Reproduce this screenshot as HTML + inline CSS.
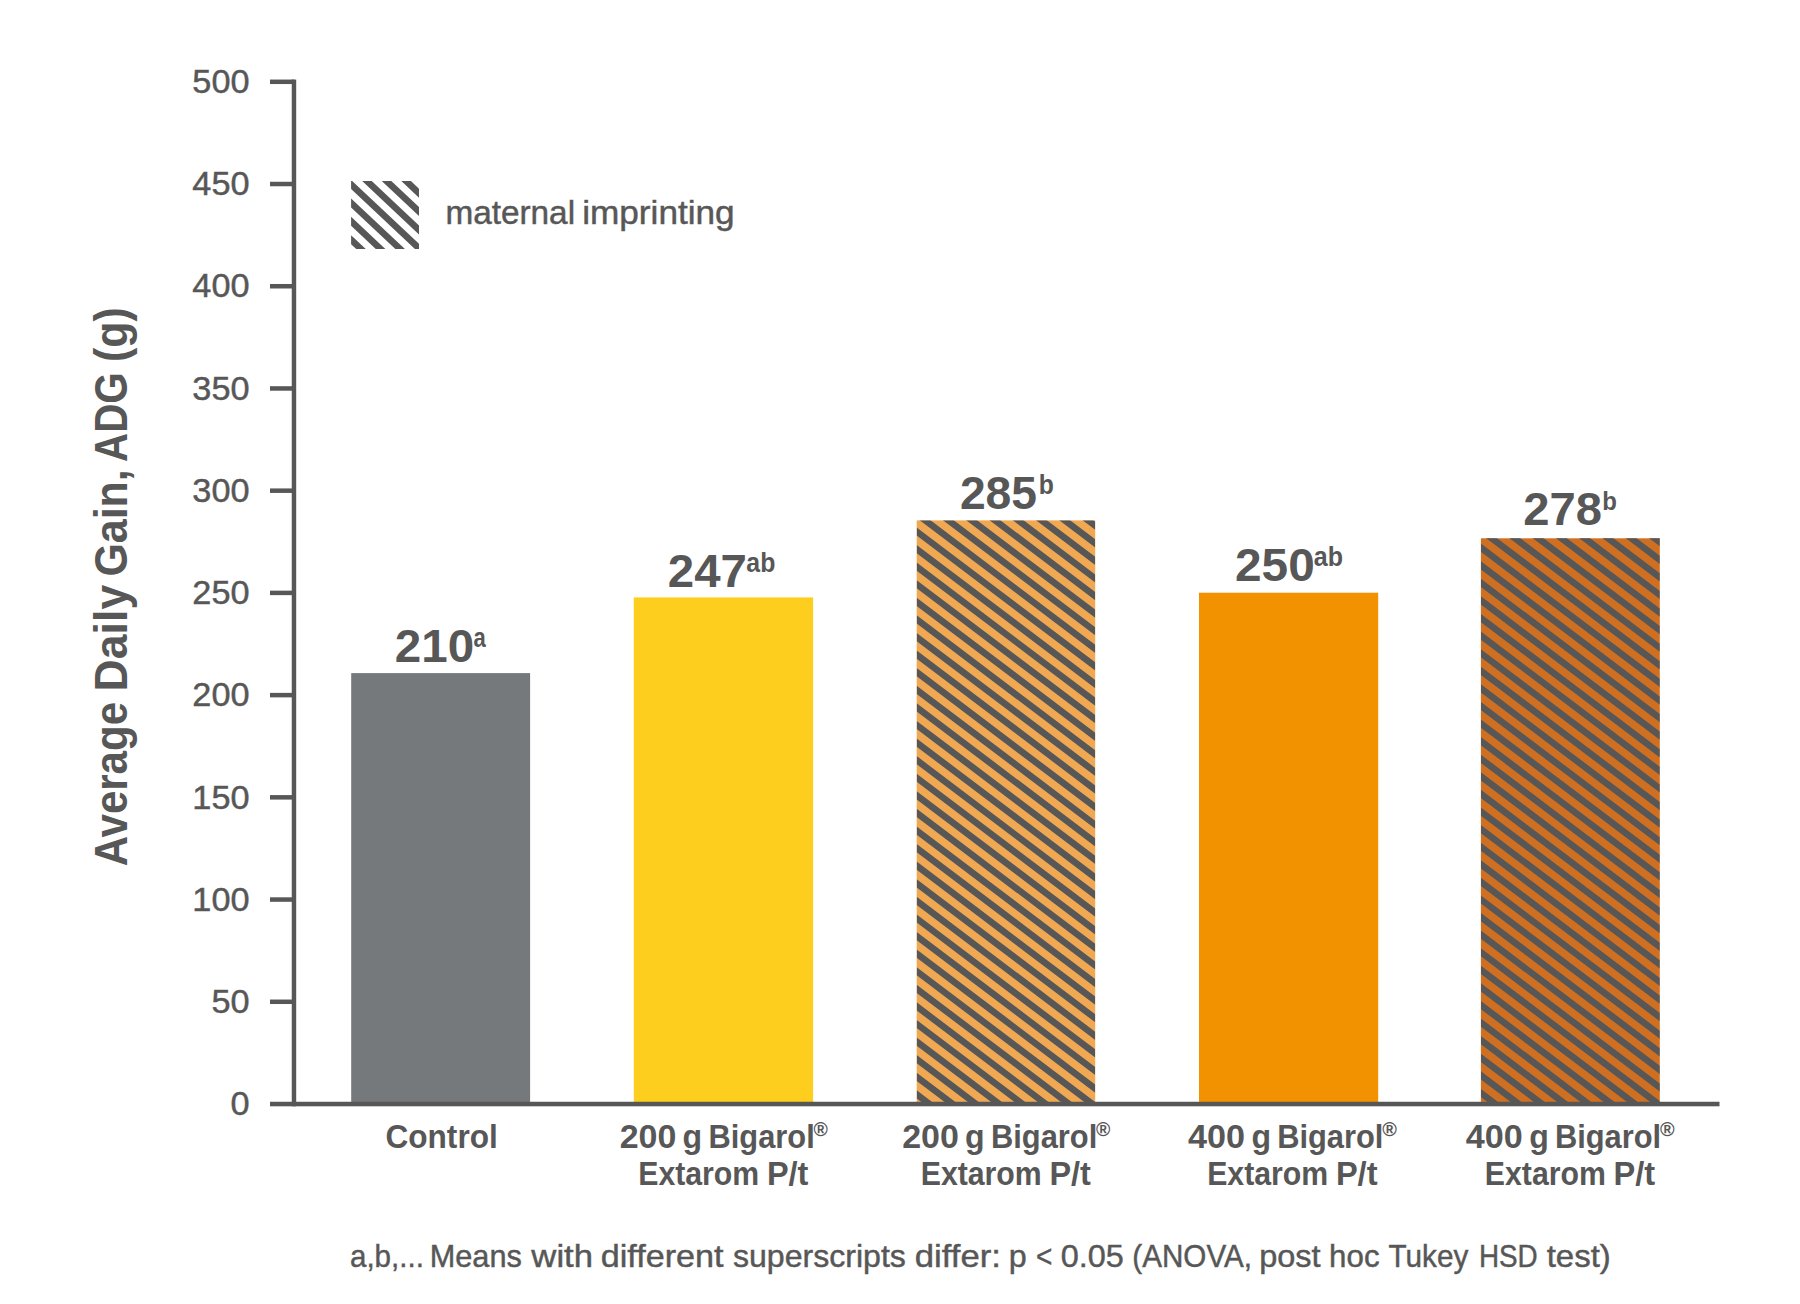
<!DOCTYPE html>
<html lang="en">
<head>
<meta charset="utf-8">
<title>Average Daily Gain chart</title>
<style>
html,body{margin:0;padding:0;background:#ffffff;}
body{width:1800px;height:1304px;overflow:hidden;}
svg{display:block;}
svg text{font-family:"Liberation Sans", Arial, Helvetica, sans-serif;fill:#575757;white-space:pre;}
svg text.r{font-weight:400;stroke:#575757;stroke-width:0.45px;}
svg text.b{font-weight:700;}
</style>
</head>
<body>
<svg width="1800" height="1304" viewBox="0 0 1800 1304">
<defs>
<clipPath id="c2"><rect x="916.7" y="520.4" width="178.50" height="583.10"/></clipPath>
<clipPath id="c4"><rect x="1480.9" y="538.3" width="178.90" height="565.20"/></clipPath>
<clipPath id="cl"><rect x="351.1" y="181.0" width="67.90" height="68.00"/></clipPath>
</defs>
<rect width="1800" height="1304" fill="#ffffff"/>
<g id="bars">
<rect x="351.2" y="673.1" width="178.90" height="430.40" fill="#75797c"/>
<rect x="633.8" y="597.4" width="179.30" height="506.10" fill="#fece1f"/>
<rect x="916.7" y="520.4" width="178.50" height="583.10" fill="#f0a852"/>
<path clip-path="url(#c2)" fill="#575757" d="M916.70 351.50L1095.20 486.45V494.65L916.70 359.70ZM916.70 369.09L1095.20 504.04V512.24L916.70 377.29ZM916.70 386.68L1095.20 521.63V529.83L916.70 394.88ZM916.70 404.27L1095.20 539.22V547.42L916.70 412.47ZM916.70 421.86L1095.20 556.81V565.01L916.70 430.06ZM916.70 439.45L1095.20 574.40V582.60L916.70 447.65ZM916.70 457.04L1095.20 591.99V600.19L916.70 465.24ZM916.70 474.63L1095.20 609.58V617.78L916.70 482.83ZM916.70 492.22L1095.20 627.17V635.37L916.70 500.42ZM916.70 509.81L1095.20 644.76V652.96L916.70 518.01ZM916.70 527.40L1095.20 662.35V670.55L916.70 535.60ZM916.70 544.99L1095.20 679.94V688.14L916.70 553.19ZM916.70 562.58L1095.20 697.53V705.73L916.70 570.78ZM916.70 580.17L1095.20 715.12V723.32L916.70 588.37ZM916.70 597.76L1095.20 732.71V740.91L916.70 605.96ZM916.70 615.35L1095.20 750.30V758.50L916.70 623.55ZM916.70 632.94L1095.20 767.89V776.09L916.70 641.14ZM916.70 650.53L1095.20 785.48V793.68L916.70 658.73ZM916.70 668.12L1095.20 803.07V811.27L916.70 676.32ZM916.70 685.71L1095.20 820.66V828.86L916.70 693.91ZM916.70 703.30L1095.20 838.25V846.45L916.70 711.50ZM916.70 720.89L1095.20 855.84V864.04L916.70 729.09ZM916.70 738.48L1095.20 873.43V881.63L916.70 746.68ZM916.70 756.07L1095.20 891.02V899.22L916.70 764.27ZM916.70 773.66L1095.20 908.61V916.81L916.70 781.86ZM916.70 791.25L1095.20 926.20V934.40L916.70 799.45ZM916.70 808.84L1095.20 943.79V951.99L916.70 817.04ZM916.70 826.43L1095.20 961.38V969.58L916.70 834.63ZM916.70 844.02L1095.20 978.97V987.17L916.70 852.22ZM916.70 861.61L1095.20 996.56V1004.76L916.70 869.81ZM916.70 879.20L1095.20 1014.15V1022.35L916.70 887.40ZM916.70 896.79L1095.20 1031.74V1039.94L916.70 904.99ZM916.70 914.38L1095.20 1049.33V1057.53L916.70 922.58ZM916.70 931.97L1095.20 1066.92V1075.12L916.70 940.17ZM916.70 949.56L1095.20 1084.51V1092.71L916.70 957.76ZM916.70 967.15L1095.20 1102.10V1110.30L916.70 975.35ZM916.70 984.74L1095.20 1119.69V1127.89L916.70 992.94ZM916.70 1002.33L1095.20 1137.28V1145.48L916.70 1010.53ZM916.70 1019.92L1095.20 1154.87V1163.07L916.70 1028.12ZM916.70 1037.51L1095.20 1172.46V1180.66L916.70 1045.71ZM916.70 1055.10L1095.20 1190.05V1198.25L916.70 1063.30ZM916.70 1072.69L1095.20 1207.64V1215.84L916.70 1080.89ZM916.70 1090.28L1095.20 1225.23V1233.43L916.70 1098.48ZM916.70 1107.87L1095.20 1242.82V1251.02L916.70 1116.07ZM916.70 1125.46L1095.20 1260.41V1268.61L916.70 1133.66ZM916.70 1143.05L1095.20 1278.00V1286.20L916.70 1151.25Z"/>
<rect x="1199.0" y="592.7" width="179.20" height="510.80" fill="#f39200"/>
<rect x="1480.9" y="538.3" width="178.90" height="565.20" fill="#cf6f21"/>
<path clip-path="url(#c4)" fill="#575757" d="M1480.90 367.70L1659.80 502.95V511.15L1480.90 375.90ZM1480.90 385.29L1659.80 520.54V528.74L1480.90 393.49ZM1480.90 402.88L1659.80 538.13V546.33L1480.90 411.08ZM1480.90 420.47L1659.80 555.72V563.92L1480.90 428.67ZM1480.90 438.06L1659.80 573.31V581.51L1480.90 446.26ZM1480.90 455.65L1659.80 590.90V599.10L1480.90 463.85ZM1480.90 473.24L1659.80 608.49V616.69L1480.90 481.44ZM1480.90 490.83L1659.80 626.08V634.28L1480.90 499.03ZM1480.90 508.42L1659.80 643.67V651.87L1480.90 516.62ZM1480.90 526.01L1659.80 661.26V669.46L1480.90 534.21ZM1480.90 543.60L1659.80 678.85V687.05L1480.90 551.80ZM1480.90 561.19L1659.80 696.44V704.64L1480.90 569.39ZM1480.90 578.78L1659.80 714.03V722.23L1480.90 586.98ZM1480.90 596.37L1659.80 731.62V739.82L1480.90 604.57ZM1480.90 613.96L1659.80 749.21V757.41L1480.90 622.16ZM1480.90 631.55L1659.80 766.80V775.00L1480.90 639.75ZM1480.90 649.14L1659.80 784.39V792.59L1480.90 657.34ZM1480.90 666.73L1659.80 801.98V810.18L1480.90 674.93ZM1480.90 684.32L1659.80 819.57V827.77L1480.90 692.52ZM1480.90 701.91L1659.80 837.16V845.36L1480.90 710.11ZM1480.90 719.50L1659.80 854.75V862.95L1480.90 727.70ZM1480.90 737.09L1659.80 872.34V880.54L1480.90 745.29ZM1480.90 754.68L1659.80 889.93V898.13L1480.90 762.88ZM1480.90 772.27L1659.80 907.52V915.72L1480.90 780.47ZM1480.90 789.86L1659.80 925.11V933.31L1480.90 798.06ZM1480.90 807.45L1659.80 942.70V950.90L1480.90 815.65ZM1480.90 825.04L1659.80 960.29V968.49L1480.90 833.24ZM1480.90 842.63L1659.80 977.88V986.08L1480.90 850.83ZM1480.90 860.22L1659.80 995.47V1003.67L1480.90 868.42ZM1480.90 877.81L1659.80 1013.06V1021.26L1480.90 886.01ZM1480.90 895.40L1659.80 1030.65V1038.85L1480.90 903.60ZM1480.90 912.99L1659.80 1048.24V1056.44L1480.90 921.19ZM1480.90 930.58L1659.80 1065.83V1074.03L1480.90 938.78ZM1480.90 948.17L1659.80 1083.42V1091.62L1480.90 956.37ZM1480.90 965.76L1659.80 1101.01V1109.21L1480.90 973.96ZM1480.90 983.35L1659.80 1118.60V1126.80L1480.90 991.55ZM1480.90 1000.94L1659.80 1136.19V1144.39L1480.90 1009.14ZM1480.90 1018.53L1659.80 1153.78V1161.98L1480.90 1026.73ZM1480.90 1036.12L1659.80 1171.37V1179.57L1480.90 1044.32ZM1480.90 1053.71L1659.80 1188.96V1197.16L1480.90 1061.91ZM1480.90 1071.30L1659.80 1206.55V1214.75L1480.90 1079.50ZM1480.90 1088.89L1659.80 1224.14V1232.34L1480.90 1097.09ZM1480.90 1106.48L1659.80 1241.73V1249.93L1480.90 1114.68ZM1480.90 1124.07L1659.80 1259.32V1267.52L1480.90 1132.27ZM1480.90 1141.66L1659.80 1276.91V1285.11L1480.90 1149.86Z"/>
<path clip-path="url(#cl)" fill="#575757" d="M351.10 88.00L419.00 151.83V160.83L351.10 97.00ZM351.10 106.40L419.00 170.23V179.23L351.10 115.40ZM351.10 124.80L419.00 188.63V197.63L351.10 133.80ZM351.10 143.20L419.00 207.03V216.03L351.10 152.20ZM351.10 161.60L419.00 225.43V234.43L351.10 170.60ZM351.10 180.00L419.00 243.83V252.83L351.10 189.00ZM351.10 198.40L419.00 262.23V271.23L351.10 207.40ZM351.10 216.80L419.00 280.63V289.63L351.10 225.80ZM351.10 235.20L419.00 299.03V308.03L351.10 244.20ZM351.10 253.60L419.00 317.43V326.43L351.10 262.60ZM351.10 272.00L419.00 335.83V344.83L351.10 281.00Z"/>
</g>
<g id="axes" fill="#575757">
<rect x="291.75" y="79.55" width="4.45" height="1026.75"/>
<rect x="270" y="1101.75" width="1449.5" height="4.55"/>
<rect x="270" y="999.53" width="24" height="4.5"/>
<rect x="270" y="897.31" width="24" height="4.5"/>
<rect x="270" y="795.09" width="24" height="4.5"/>
<rect x="270" y="692.87" width="24" height="4.5"/>
<rect x="270" y="590.65" width="24" height="4.5"/>
<rect x="270" y="488.43" width="24" height="4.5"/>
<rect x="270" y="386.21" width="24" height="4.5"/>
<rect x="270" y="283.99" width="24" height="4.5"/>
<rect x="270" y="181.77" width="24" height="4.5"/>
<rect x="270" y="79.55" width="24" height="4.5"/>
</g>
<g id="labels">
<text class="r" transform="translate(230.41 1115.21) scale(1.0544 1)" font-size="32.50">0</text>
<text class="r" transform="translate(211.39 1012.99) scale(1.0544 1)" font-size="32.50">50</text>
<text class="r" transform="translate(192.37 910.77) scale(1.0544 1)" font-size="32.50">100</text>
<text class="r" transform="translate(192.37 808.55) scale(1.0544 1)" font-size="32.50">150</text>
<text class="r" transform="translate(192.37 706.33) scale(1.0544 1)" font-size="32.50">200</text>
<text class="r" transform="translate(192.37 604.11) scale(1.0544 1)" font-size="32.50">250</text>
<text class="r" transform="translate(192.37 501.89) scale(1.0544 1)" font-size="32.50">300</text>
<text class="r" transform="translate(192.37 399.67) scale(1.0544 1)" font-size="32.50">350</text>
<text class="r" transform="translate(192.37 297.45) scale(1.0544 1)" font-size="32.50">400</text>
<text class="r" transform="translate(192.37 195.23) scale(1.0544 1)" font-size="32.50">450</text>
<text class="r" transform="translate(192.37 93.01) scale(1.0544 1)" font-size="32.50">500</text>
<text class="b" transform="translate(394.83 661.64) scale(1.0301 1)" font-size="46.20">210</text>
<text class="b" transform="translate(473.44 646.83) scale(0.8260 1)" font-size="26.73">a</text>
<text class="b" transform="translate(667.84 587.20) scale(1.0245 1)" font-size="46.29">247</text>
<text class="b" transform="translate(746.35 572.33) scale(0.9038 1)" font-size="27.48">ab</text>
<text class="b" transform="translate(959.88 508.84) scale(1.0069 1)" font-size="45.92">285</text>
<text class="b" transform="translate(1038.69 493.73) scale(0.9188 1)" font-size="26.94">b</text>
<text class="b" transform="translate(1235.03 580.54) scale(1.0373 1)" font-size="46.06">250</text>
<text class="b" transform="translate(1313.85 565.73) scale(0.9242 1)" font-size="27.07">ab</text>
<text class="b" transform="translate(1523.35 525.44) scale(1.0336 1)" font-size="45.63">278</text>
<text class="b" transform="translate(1602.34 509.64) scale(0.9172 1)" font-size="26.12">b</text>
<text class="b" transform="translate(385.44 1147.70) scale(0.9697 1)" font-size="32.60">Control</text>
<text class="b" transform="translate(619.71 1147.60) scale(1.0424 1)" font-size="32.60">200</text>
<text class="b" transform="translate(682.52 1147.60) scale(0.9840 1)" font-size="32.60">g</text>
<text class="b" transform="translate(708.50 1147.60) scale(0.9462 1)" font-size="32.60">Bigarol</text>
<text class="b" transform="translate(813.51 1136.00) scale(0.9716 1)" font-size="20.00">®</text>
<text class="b" transform="translate(638.23 1185.30) scale(0.9278 1)" font-size="32.60">Extarom</text>
<text class="b" transform="translate(766.89 1185.30) scale(0.9969 1)" font-size="32.60">P/t</text>
<text class="b" transform="translate(902.21 1147.60) scale(1.0424 1)" font-size="32.60">200</text>
<text class="b" transform="translate(965.02 1147.60) scale(0.9840 1)" font-size="32.60">g</text>
<text class="b" transform="translate(991.00 1147.60) scale(0.9462 1)" font-size="32.60">Bigarol</text>
<text class="b" transform="translate(1096.01 1136.00) scale(0.9716 1)" font-size="20.00">®</text>
<text class="b" transform="translate(920.73 1185.30) scale(0.9278 1)" font-size="32.60">Extarom</text>
<text class="b" transform="translate(1049.39 1185.30) scale(0.9969 1)" font-size="32.60">P/t</text>
<text class="b" transform="translate(1188.09 1147.60) scale(1.0485 1)" font-size="32.60">400</text>
<text class="b" transform="translate(1251.62 1147.60) scale(0.9840 1)" font-size="32.60">g</text>
<text class="b" transform="translate(1277.20 1147.60) scale(0.9462 1)" font-size="32.60">Bigarol</text>
<text class="b" transform="translate(1382.30 1136.00) scale(0.9929 1)" font-size="20.00">®</text>
<text class="b" transform="translate(1207.13 1185.30) scale(0.9286 1)" font-size="32.60">Extarom</text>
<text class="b" transform="translate(1335.88 1185.30) scale(0.9995 1)" font-size="32.60">P/t</text>
<text class="b" transform="translate(1465.79 1147.60) scale(1.0485 1)" font-size="32.60">400</text>
<text class="b" transform="translate(1529.32 1147.60) scale(0.9840 1)" font-size="32.60">g</text>
<text class="b" transform="translate(1554.90 1147.60) scale(0.9462 1)" font-size="32.60">Bigarol</text>
<text class="b" transform="translate(1660.00 1136.00) scale(0.9929 1)" font-size="20.00">®</text>
<text class="b" transform="translate(1484.83 1185.30) scale(0.9286 1)" font-size="32.60">Extarom</text>
<text class="b" transform="translate(1613.58 1185.30) scale(0.9995 1)" font-size="32.60">P/t</text>
<text class="r" transform="translate(445.40 223.90) scale(1.0259 1)" font-size="32.50">maternal</text>
<text class="r" transform="translate(582.19 223.90) scale(1.0828 1)" font-size="32.50">imprinting</text>
<text class="r" transform="translate(349.96 1267.40) scale(0.9244 1)" font-size="32.00">a,b,...</text>
<text class="r" transform="translate(429.69 1267.40) scale(0.9607 1)" font-size="32.00">Means</text>
<text class="r" transform="translate(531.35 1267.40) scale(1.0838 1)" font-size="32.00">with</text>
<text class="r" transform="translate(600.80 1267.40) scale(1.0674 1)" font-size="32.00">different</text>
<text class="r" transform="translate(732.96 1267.40) scale(1.0030 1)" font-size="32.00">superscripts</text>
<text class="r" transform="translate(914.79 1267.40) scale(1.0835 1)" font-size="32.00">differ:</text>
<text class="r" transform="translate(1008.83 1267.40) scale(1.0081 1)" font-size="32.00">p</text>
<text class="r" transform="translate(1035.88 1267.40) scale(0.8750 1)" font-size="32.00">&lt;</text>
<text class="r" transform="translate(1060.63 1267.40) scale(1.0140 1)" font-size="32.00">0.05</text>
<text class="r" transform="translate(1132.37 1267.40) scale(0.9255 1)" font-size="32.00">(ANOVA,</text>
<text class="r" transform="translate(1259.21 1267.40) scale(1.0150 1)" font-size="32.00">post</text>
<text class="r" transform="translate(1329.12 1267.40) scale(0.9772 1)" font-size="32.00">hoc</text>
<text class="r" transform="translate(1388.55 1267.40) scale(0.9282 1)" font-size="32.00">Tukey</text>
<text class="r" transform="translate(1478.91 1267.40) scale(0.8709 1)" font-size="32.00">HSD</text>
<text class="r" transform="translate(1546.67 1267.40) scale(1.0306 1)" font-size="32.00">test)</text>
<text class="b" transform="translate(127.20 866.25) rotate(-90) scale(0.9136 1)" font-size="46.00">Average</text>
<text class="b" transform="translate(127.20 691.40) rotate(-90) scale(0.9698 1)" font-size="46.00">Daily</text>
<text class="b" transform="translate(127.20 576.62) rotate(-90) scale(0.9340 1)" font-size="46.00">Gain,</text>
<text class="b" transform="translate(127.20 462.01) rotate(-90) scale(0.8777 1)" font-size="46.00">ADG</text>
<text class="b" transform="translate(127.20 361.94) rotate(-90) scale(0.9306 1)" font-size="46.00">(g)</text>
</g>
</svg>
</body>
</html>
